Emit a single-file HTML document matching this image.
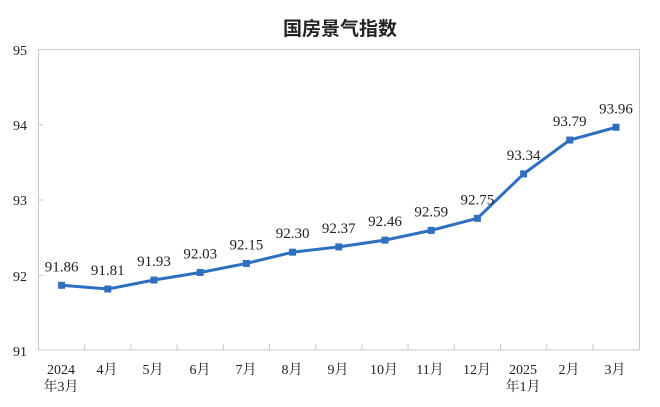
<!DOCTYPE html>
<html><head><meta charset="utf-8"><style>
html,body{margin:0;padding:0;background:#fff;}
svg{display:block;}
text{font-family:"Liberation Serif","Noto Serif CJK SC",serif;fill:#222;}
</style></head><body>
<svg width="660" height="407" viewBox="0 0 660 407">
<text x="340" y="35" text-anchor="middle" font-size="19" font-weight="bold" style="font-family:'Liberation Sans','Noto Sans CJK SC',sans-serif">国房景气指数</text>
<rect x="38.5" y="49.5" width="601" height="300.5" fill="none" stroke="#c8c8c8" stroke-width="1"/>
<g stroke="#c8c8c8" stroke-width="1">
<line x1="38.5" y1="124.8" x2="43" y2="124.8"/>
<line x1="38.5" y1="200" x2="43" y2="200"/>
<line x1="38.5" y1="275.3" x2="43" y2="275.3"/>
</g>
<g font-size="14" text-anchor="end">
<text x="27" y="55">95</text><text x="27" y="130">94</text><text x="27" y="205">93</text><text x="27" y="281">92</text><text x="27" y="356">91</text>
</g>
<g id="ticks" stroke="#c8c8c8" stroke-width="1"></g>
<g font-size="14" text-anchor="middle">
<text x="61" y="374">2024</text><text x="61" y="391">年3月</text>
<text x="107" y="374">4月</text><text x="153" y="374">5月</text><text x="200" y="374">6月</text>
<text x="246" y="374">7月</text><text x="292" y="374">8月</text><text x="338" y="374">9月</text>
<text x="384" y="374">10月</text><text x="430" y="374">11月</text><text x="477" y="374">12月</text>
<text x="523" y="374">2025</text><text x="523" y="391">年1月</text>
<text x="569" y="374">2月</text><text x="615" y="374">3月</text>
</g>
<g id="s"></g>
</svg>
<script>
var v=[91.86,91.81,91.93,92.03,92.15,92.30,92.37,92.46,92.59,92.75,93.34,93.79,93.96];
var ns="http://www.w3.org/2000/svg";
var tk=document.getElementById("ticks");
for(var i=1;i<13;i++){var x=38.5+i*46.2;var l=document.createElementNS(ns,"line");l.setAttribute("x1",x);l.setAttribute("x2",x);l.setAttribute("y1",344);l.setAttribute("y2",350);tk.appendChild(l);}
var g=document.getElementById("s"),pts=[];
v.forEach(function(d,i){var x=61.6+i*46.2,y=350-(d-91)*75.25;pts.push(x+","+y);});
var p=document.createElementNS(ns,"polyline");p.setAttribute("points",pts.join(" "));p.setAttribute("fill","none");p.setAttribute("stroke","#2e6fc0");p.setAttribute("stroke-width","3");g.appendChild(p);
v.forEach(function(d,i){var x=61.6+i*46.2,y=350-(d-91)*75.25;
var r=document.createElementNS(ns,"rect");r.setAttribute("x",x-3.5);r.setAttribute("y",y-3.5);r.setAttribute("width",7);r.setAttribute("height",7);r.setAttribute("fill","#2e6fc0");g.appendChild(r);
var t=document.createElementNS(ns,"text");t.setAttribute("x",x);t.setAttribute("y",y-14);t.setAttribute("text-anchor","middle");t.setAttribute("font-size","15");t.textContent=d.toFixed(2);g.appendChild(t);});
</script>
</body></html>
